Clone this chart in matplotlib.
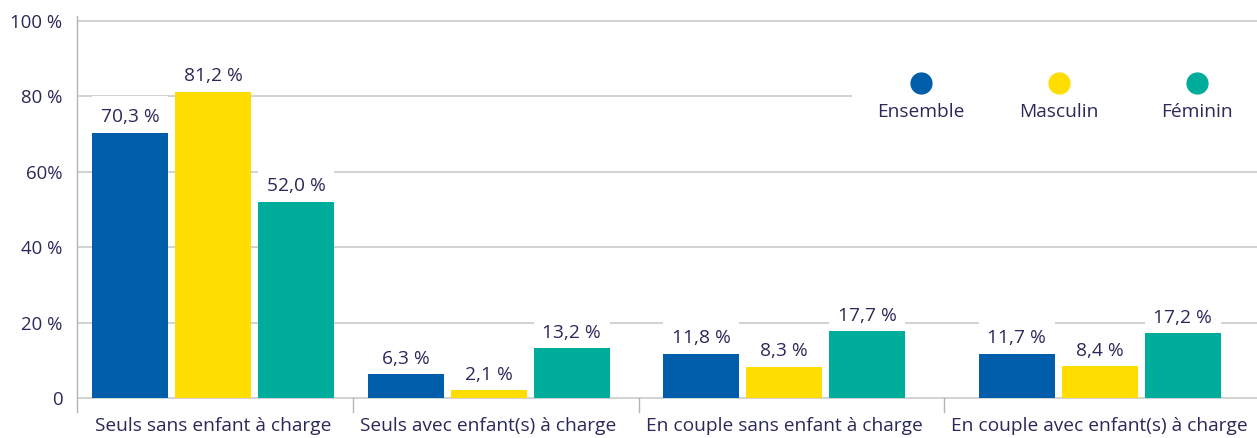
import matplotlib
matplotlib.use("Agg")
import matplotlib.pyplot as plt
from matplotlib.patches import Rectangle
from matplotlib.transforms import blended_transform_factory

# ---------------- data ----------------
categories = ["Seuls sans enfant à charge", "Seuls avec enfant(s) à charge",
              "En couple sans enfant à charge", "En couple avec enfant(s) à charge"]
series_names = ["Ensemble", "Masculin", "Féminin"]
ensemble = [70.3, 6.3, 11.8, 11.7]
masculin = [81.2, 2.1, 8.3, 8.4]
feminin = [52.0, 13.2, 17.7, 17.2]
y_ticks = [0, 20, 40, 60, 80, 100]
y_tick_labels = ["0", "20 %", "40 %", "60%", "80 %", "100 %"]

# ---------------- style ----------------
colors = ["#005da9", "#ffdd00", "#00ac9a"]
text_color = "#29295a"
grid_color = "#cfcfcf"
spine_color = "#b4b4b4"
FONT = ["Open Sans", "DejaVu Sans"]
plt.rcParams["font.family"] = FONT

W, H = 1257, 438
fig = plt.figure(figsize=(W / 100, H / 100), dpi=100)

# pixel layout of the plotting area
left_px, zero_px, hundred_px = 77, 398, 21
top_px, bottom_px = 16, 412
px_per_unit = (zero_px - hundred_px) / 100.0
ymin = -(bottom_px - zero_px) / px_per_unit
ymax = 100 + (hundred_px - top_px) / px_per_unit
ax = fig.add_axes([left_px / W, (H - bottom_px) / H, (W - left_px) / W,
                   (bottom_px - top_px) / H])
ax_w = W - left_px
ax.set_xlim(0, ax_w)          # x data units = pixels
ax.set_ylim(ymin, ymax)

for s in ["top", "right", "bottom"]:
    ax.spines[s].set_visible(False)
ax.spines["left"].set_color(spine_color)
ax.spines["left"].set_linewidth(1.0)

# ---------------- category layout from label widths ----------------
cat_fs = 13.8
renderer = fig.canvas.get_renderer()
widths = []
for c in categories:
    t = fig.text(0, 0, c, fontsize=cat_fs)
    widths.append(t.get_window_extent(renderer).width)
    t.remove()
pad_left, pad_right = 18, 9
gap = (ax_w - pad_left - pad_right - sum(widths)) / (len(categories) - 1)
centers = []
starts = []
x = pad_left
for w in widths:
    starts.append(x)
    centers.append(x + w / 2)
    x += w + gap

# ---------------- bars ----------------
bar_w, step = 76, 83
series = [ensemble, masculin, feminin]
label_box_h = 37 / px_per_unit
for k, vals in enumerate(series):
    xs = [c + (k - 1) * step for c in centers]
    # white background boxes behind the value labels (hide grid lines)
    ax.bar(xs, [label_box_h] * len(vals), bottom=vals, width=bar_w,
           color="white", zorder=2, linewidth=0)
    ax.bar(xs, vals, width=bar_w, color=colors[k], zorder=3, linewidth=0)
    for xi, v in zip(xs, vals):
        ax.annotate(f"{v:.1f} %".replace(".", ","), (xi, v),
                    xytext=(0, 7.6), textcoords="offset points",
                    ha="center", va="baseline", fontsize=13.8,
                    color=text_color, zorder=4)

# ---------------- grid / axes ----------------
for t in y_ticks:
    ax.axhline(t, color=grid_color, lw=1.3, zorder=1)
ax.set_yticks(y_ticks)
ax.set_yticklabels(y_tick_labels)
ax.tick_params(axis="y", length=0, pad=10.5, labelsize=13.4, labelcolor=text_color)
ax.set_xticks([])

# separators between categories (just left of the next label)
for s in starts[1:]:
    ax.plot([s - 7] * 2, [0, ymin], color=spine_color, lw=1.0,
            zorder=1, clip_on=False)

# category labels
trans = blended_transform_factory(ax.transData, fig.transFigure)
for c, name in zip(centers, categories):
    ax.text(c, (H - 426) / H, name, transform=trans, ha="center", va="center",
            fontsize=cat_fs, color=text_color)

# ---------------- legend ----------------
fig.patches.append(Rectangle((852 / W, (H - 136) / H), (W - 852) / W, 76 / H,
                             transform=fig.transFigure, facecolor="white",
                             edgecolor="none", zorder=5))
leg_x0, leg_dx = 921, 138
for k, name in enumerate(series_names):
    cx = (leg_x0 + k * leg_dx) / W
    fig.lines.append(plt.Line2D([cx], [(H - 83) / H], marker="o", markersize=15,
                                color=colors[k], linestyle="none",
                                transform=fig.transFigure, zorder=6))
    fig.text(cx, (H - 112) / H, name, ha="center", va="center",
             fontsize=13.8, color=text_color, zorder=6)

fig.savefig("out.png", dpi=100)
